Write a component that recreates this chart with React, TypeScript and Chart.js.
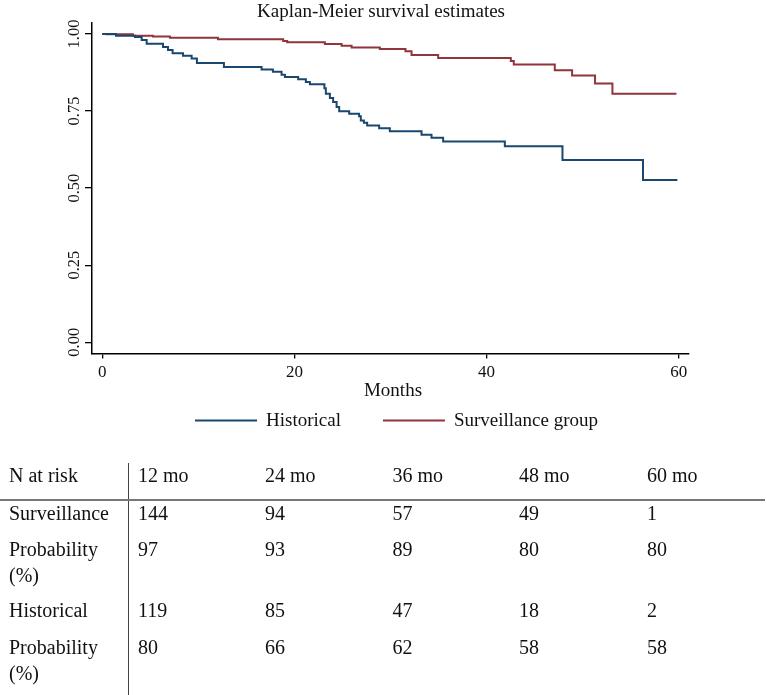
import React, { useEffect, useRef } from "react";
import { Chart, registerables } from "chart.js";

Chart.register(...registerables);

// ---- Data ----
const TITLE = "Kaplan-Meier survival estimates";
const X_TITLE = "Months";
const X_TICKS = [0, 20, 40, 60];
const Y_TICKS = [0, 0.25, 0.5, 0.75, 1];

const histLabel = "Historical";
const histTime = [0, 1.43, 3.4, 4.1, 4.62, 6.32, 6.84, 7.32, 8.4, 9.3, 9.85, 12.66, 16.58, 17.76, 18.66, 19.01, 20.39, 21.19, 21.61, 23.12, 23.27, 23.69, 24.03, 24.39, 24.66, 25.7, 26.73, 26.91, 27.23, 27.57, 28.82, 29.93, 33.23, 34.27, 35.48, 41.9, 47.9, 56.28, 59.86];
const histSurv = [1.0, 0.994, 0.99, 0.98, 0.968, 0.958, 0.948, 0.937, 0.929, 0.92, 0.906, 0.893, 0.885, 0.877, 0.868, 0.86, 0.853, 0.844, 0.837, 0.824, 0.806, 0.792, 0.779, 0.763, 0.749, 0.741, 0.733, 0.719, 0.712, 0.703, 0.694, 0.684, 0.673, 0.663, 0.651, 0.636, 0.591, 0.526, 0.526];

const survLabel = "Surveillance group";
const survTime = [0, 0.46, 3.19, 5.27, 7.04, 12.04, 18.83, 19.25, 23.17, 24.91, 25.95, 28.89, 31.56, 32.19, 34.96, 42.52, 42.83, 47.1, 48.9, 51.29, 53.1, 59.76];
const survSurv = [1.0, 0.999, 0.994, 0.992, 0.988, 0.983, 0.977, 0.973, 0.967, 0.962, 0.956, 0.951, 0.944, 0.932, 0.922, 0.912, 0.901, 0.882, 0.865, 0.839, 0.806, 0.806];

// Risk table
const tableHeaderLabel = "N at risk";
const tableColumns = ["12 mo", "24 mo", "36 mo", "48 mo", "60 mo"];
const rowLabels = ["Surveillance", "Probability (%)", "Historical", "Probability (%)"];
const survAtRisk = [144, 94, 57, 49, 1];
const survProb = [97, 93, 89, 80, 80];
const histAtRisk = [119, 85, 47, 18, 2];
const histProb = [80, 66, 62, 58, 58];

// ---- Styles ----
const FONT = '"Liberation Serif", "Times New Roman", serif';
const BLUE = "#1a476f";
const RED = "#90353b";
const TEXT = "#111111";

const overlayPlugin = {
  id: "kmOverlay",
  afterDraw(chart: any) {
    const { ctx, chartArea, scales } = chart;
    ctx.save();
    ctx.fillStyle = TEXT;
    ctx.textBaseline = "alphabetic";

    // Title
    ctx.font = `19px ${FONT}`;
    ctx.textAlign = "center";
    ctx.fillText(TITLE, 381, 17);

    // Rotated y tick labels
    ctx.font = `16.5px ${FONT}`;
    for (const v of Y_TICKS) {
      const py = scales.y.getPixelForValue(v);
      ctx.save();
      ctx.translate(chartArea.left - 13.5, py);
      ctx.rotate(-Math.PI / 2);
      ctx.textAlign = "center";
      ctx.fillText(v.toFixed(2), 0, 0);
      ctx.restore();
    }

    // X axis title
    ctx.font = `19px ${FONT}`;
    ctx.textAlign = "center";
    ctx.fillText(X_TITLE, (chartArea.left + chartArea.right) / 2 + 2.5, 396);

    // Legend
    const lineW = 62;
    const gapText = 9;
    const gapItem = 42;
    const ds = chart.data.datasets;
    const widths = ds.map((d: any) => ctx.measureText(d.label).width);
    let total = 0;
    widths.forEach((w: number, i: number) => {
      total += lineW + gapText + w + (i < widths.length - 1 ? gapItem : 0);
    });
    let x = 396.5 - total / 2;
    const ly = 420.5;
    ds.forEach((d: any, i: number) => {
      ctx.strokeStyle = d.borderColor;
      ctx.lineWidth = 2;
      ctx.beginPath();
      ctx.moveTo(x, ly);
      ctx.lineTo(x + lineW, ly);
      ctx.stroke();
      ctx.textAlign = "left";
      ctx.fillStyle = TEXT;
      ctx.fillText(d.label, x + lineW + gapText, 426);
      x += lineW + gapText + widths[i] + gapItem;
    });
    ctx.restore();
  },
};

const toPoints = (t: number[], s: number[]) => t.map((v, i) => ({ x: v, y: s[i] }));

function KMChart() {
  const ref = useRef<HTMLCanvasElement | null>(null);
  useEffect(() => {
    if (!ref.current) return;
    const chart = new Chart(ref.current, {
      type: "line",
      data: {
        datasets: [
          {
            label: histLabel,
            data: toPoints(histTime, histSurv),
            borderColor: BLUE,
            backgroundColor: BLUE,
            borderWidth: 2,
            pointRadius: 0,
            stepped: "before",
            fill: false,
          },
          {
            label: survLabel,
            data: toPoints(survTime, survSurv),
            borderColor: RED,
            backgroundColor: RED,
            borderWidth: 2,
            pointRadius: 0,
            stepped: "before",
            fill: false,
          },
        ],
      },
      options: {
        animation: false,
        responsive: false,
        maintainAspectRatio: false,
        layout: { padding: { left: 85, right: 78, top: 23, bottom: 53 } },
        plugins: {
          legend: { display: false },
          title: { display: false },
          tooltip: { enabled: false },
        },
        scales: {
          x: {
            type: "linear",
            min: -1.07,
            max: 61.07,
            afterBuildTicks: (scale: any) => {
              scale.ticks = X_TICKS.map((v) => ({ value: v }));
            },
            ticks: {
              color: TEXT,
              font: { family: FONT, size: 17 },
              padding: 4,
              maxRotation: 0,
              callback: (v: any) => String(v),
            },
            grid: {
              drawOnChartArea: false,
              drawTicks: true,
              tickLength: 5,
              color: "#000",
              lineWidth: 1.3,
            },
            border: { display: true, color: "#000", width: 1.5 },
          },
          y: {
            type: "linear",
            min: -0.0368,
            max: 1.0355,
            afterBuildTicks: (scale: any) => {
              scale.ticks = Y_TICKS.map((v) => ({ value: v }));
            },
            ticks: { display: false },
            grid: {
              drawOnChartArea: false,
              drawTicks: true,
              tickLength: 7,
              color: "#000",
              lineWidth: 1.3,
            },
            border: { display: true, color: "#000", width: 1.5 },
          },
        },
      },
      plugins: [overlayPlugin],
    });
    return () => chart.destroy();
  }, []);
  return <canvas ref={ref} width={767} height={440} style={{ display: "block" }} />;
}

const colLefts = [9, 138, 265, 392.5, 519, 647];
const rowTops = [500, 536, 597, 634];
const headerTop = 462;

function RiskTable() {
  const rows = [survAtRisk, survProb, histAtRisk, histProb];
  const cellStyle = (left: number, top: number, width?: number): React.CSSProperties => ({
    position: "absolute",
    left,
    top,
    width,
    fontFamily: FONT,
    fontSize: 20,
    lineHeight: "26px",
    color: TEXT,
    whiteSpace: width ? "normal" : "nowrap",
  });
  return (
    <div style={{ position: "absolute", left: 0, top: 0, width: 767, height: 695 }}>
      <div style={{ position: "absolute", left: 127.5, top: 463, width: 1.5, height: 232, background: "#444" }} />
      <div style={{ position: "absolute", left: 0, top: 499, width: 765, height: 1.5, background: "#777" }} />
      <div style={cellStyle(colLefts[0], headerTop)}>{tableHeaderLabel}</div>
      {tableColumns.map((c, j) => (
        <div key={"h" + j} style={cellStyle(colLefts[j + 1], headerTop)}>{c}</div>
      ))}
      {rows.map((vals, i) => (
        <React.Fragment key={"r" + i}>
          <div style={cellStyle(colLefts[0], rowTops[i], 112)}>{rowLabels[i]}</div>
          {vals.map((v, j) => (
            <div key={"c" + i + "-" + j} style={cellStyle(colLefts[j + 1], rowTops[i])}>{v}</div>
          ))}
        </React.Fragment>
      ))}
    </div>
  );
}

export default function App() {
  return (
    <div style={{ position: "absolute", left: 0, top: 0, width: 767, height: 695, background: "#fff", overflow: "hidden" }}>
      <KMChart />
      <RiskTable />
    </div>
  );
}
